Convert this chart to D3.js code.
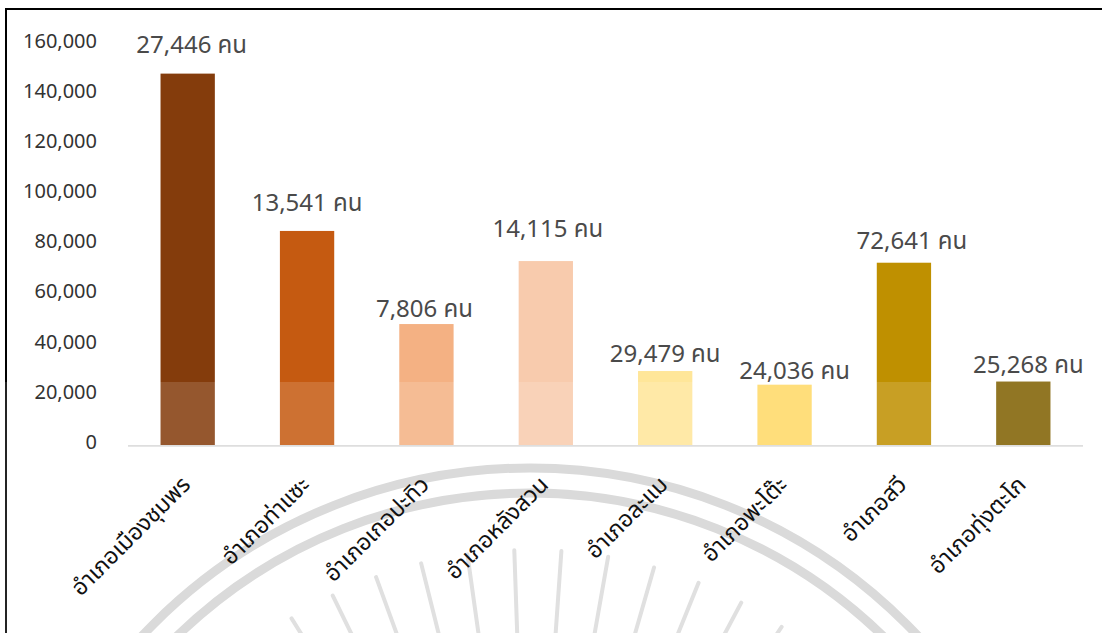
<!DOCTYPE html>
<html>
<head>
<meta charset="utf-8">
<script src="https://cdn.jsdelivr.net/npm/d3@7"></script>
<style>
  html, body { margin: 0; padding: 0; background: #fff; }
  svg { display: block; font-family: "Noto Sans", "Noto Sans Thai", "Leelawadee UI", Tahoma, sans-serif; }
</style>
</head>
<body>
<div id="chart"></div>
<script>
"use strict";

// districts of Chumphon province
var districts = ["อำเภอเมืองชุมพร", "อำเภอท่าแซะ", "อำเภอเกอปะทิว", "อำเภอหลังสวน",
                 "อำเภอละแม", "อำเภอพะโต๊ะ", "อำเภอสวี", "อำเภอทุ่งตะโก"];
// bar heights
var barValues = [148000, 85300, 48200, 73300, 29479, 24036, 72641, 25268];
// text that sits above each bar
var labelValues = [27446, 13541, 7806, 14115, 29479, 24036, 72641, 25268];
var barColors = ["#843C0C", "#C55A11", "#F4B183", "#F8CBAD", "#FFE699", "#FFD966", "#BF9000", "#7F6000"];
var yTicks = [0, 20000, 40000, 60000, 80000, 100000, 120000, 140000, 160000];

// small hand nudges of the data labels (dx, lift above bar top), as in the original
var labelNudge = [[4, 21], [0, 20], [-2, 7], [2, 24], [0, 9], [10, 6], [8, 14], [5, 9]];

var width = 1102, height = 633;
var margin = {left: 128, right: 19};

var svg = d3.select("#chart").append("svg")
    .attr("width", width)
    .attr("height", height);

// frame
svg.append("rect")
    .attr("x", 6).attr("y", 9)
    .attr("width", width + 10).attr("height", height + 10)
    .attr("fill", "none")
    .attr("stroke", "#000")
    .attr("stroke-width", 2);

var x = d3.scaleBand()
    .domain(districts)
    .range([margin.left, width - margin.right])
    .padding(0);
var y = d3.scaleLinear()
    .domain([0, 160000])
    .range([445, 43.5]);

var barW = x.bandwidth() * 0.455;
var fmt = d3.format(",");

// bars
svg.append("g").selectAll("rect")
    .data(barValues)
  .enter().append("rect")
    .attr("x", function(d, i) { return x(districts[i]) + x.bandwidth() / 2 - barW / 2; })
    .attr("y", function(d) { return y(d); })
    .attr("width", barW)
    .attr("height", function(d) { return y(0) - y(d); })
    .attr("fill", function(d, i) { return barColors[i]; });

// x axis line
svg.append("line")
    .attr("x1", margin.left).attr("x2", width - margin.right)
    .attr("y1", y(0) + 0.8).attr("y2", y(0) + 0.8)
    .attr("stroke", "#d9d9d9")
    .attr("stroke-width", 1.8);

// faint seal watermark over the lower part of the page
var wm = svg.append("g").attr("pointer-events", "none");
wm.append("rect")
    .attr("x", 0).attr("y", 382)
    .attr("width", width).attr("height", height - 382)
    .attr("fill", "#fff")
    .attr("opacity", 0.14);

var seal = wm.append("g").attr("transform", "translate(530,1000)");
[532, 507].forEach(function(r) {
  seal.append("circle")
      .attr("r", r)
      .attr("fill", "none")
      .attr("stroke", "#dadada")
      .attr("stroke-width", 9);
});
d3.range(-158, -21, 6).forEach(function(a) {
  var t = a * Math.PI / 180;
  seal.append("line")
      .attr("x1", Math.cos(t) * 330).attr("y1", Math.sin(t) * 330)
      .attr("x2", Math.cos(t) * 450).attr("y2", Math.sin(t) * 450)
      .attr("stroke", "#e0e0e0")
      .attr("stroke-width", 4)
      .attr("stroke-linecap", "round");
});

// y axis labels
svg.append("g").selectAll("text")
    .data(yTicks)
  .enter().append("text")
    .attr("x", 97)
    .attr("y", function(d) { return y(d) - 3; })
    .attr("dy", "0.35em")
    .attr("text-anchor", "end")
    .attr("font-size", 20)
    .attr("fill", "#333")
    .text(function(d) { return fmt(d); });

// data labels
svg.append("g").selectAll("text")
    .data(labelValues)
  .enter().append("text")
    .attr("x", function(d, i) { return x(districts[i]) + x.bandwidth() / 2 + labelNudge[i][0]; })
    .attr("y", function(d, i) { return y(barValues[i]) - labelNudge[i][1]; })
    .attr("text-anchor", "middle")
    .attr("font-size", 24)
    .attr("fill", "#4a4a4a")
    .text(function(d) { return fmt(d) + " คน"; });

// category labels, rotated 45 degrees
svg.append("g").selectAll("text")
    .data(districts)
  .enter().append("text")
    .attr("transform", function(d) {
      return "translate(" + (x(d) + x.bandwidth() / 2 + 4) + ",486) rotate(-45)";
    })
    .attr("text-anchor", "end")
    .attr("font-size", 23)
    .attr("fill", "#111")
    .text(function(d) { return d; });
</script>
</body>
</html>
